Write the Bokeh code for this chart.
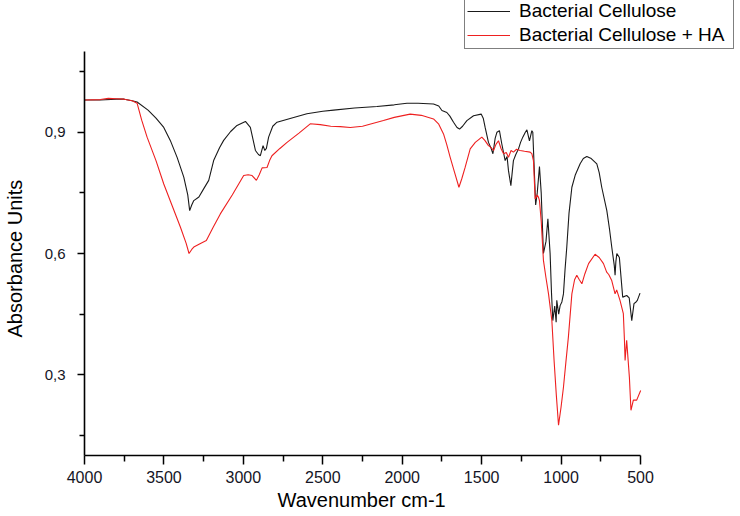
from bokeh.plotting import figure
from bokeh.models import Range1d, FixedTicker, CustomJSTickFormatter, Legend, LegendItem, Title
from bokeh.embed import file_html
from bokeh.resources import INLINE

# ---- data ----
bc_wn = [4000, 3900, 3800, 3750, 3700, 3669, 3600, 3550, 3501, 3460, 3417, 3375, 3350, 3338,
         3325, 3312, 3280, 3250, 3218, 3187, 3150, 3124, 3080, 3040, 2987, 2956, 2924, 2905,
         2893, 2876, 2865, 2855, 2841, 2815, 2788, 2700, 2600, 2500, 2432, 2300, 2159, 2050,
         1970, 1900, 1803, 1770, 1750, 1719, 1700, 1677, 1655, 1639, 1620, 1593, 1551, 1503,
         1490, 1478, 1457, 1440, 1429, 1415, 1404, 1388, 1373, 1352, 1340, 1331, 1316, 1300,
         1285, 1268, 1255, 1241, 1225, 1215, 1199, 1184, 1178, 1170, 1160, 1150, 1136, 1125,
         1111, 1095, 1083, 1069, 1060, 1052, 1040, 1031, 1027, 1015, 1006, 995, 985, 975, 964,
         950, 932, 910, 880, 860, 838, 810, 775, 760, 744, 712, 695, 681, 665, 660, 655, 649,
         633, 612, 587, 571, 555, 541, 528, 520, 503]
bc_abs = [0.980, 0.980, 0.982, 0.982, 0.978, 0.975, 0.955, 0.935, 0.912, 0.880, 0.838, 0.789, 0.745, 0.706,
          0.720, 0.731, 0.740, 0.760, 0.781, 0.830, 0.862, 0.880, 0.902, 0.917, 0.927, 0.912, 0.855, 0.845,
          0.842, 0.867, 0.855, 0.860, 0.888, 0.915, 0.925, 0.935, 0.946, 0.952, 0.955, 0.960, 0.964, 0.968,
          0.972, 0.972, 0.970, 0.965, 0.954, 0.949, 0.940, 0.925, 0.912, 0.908, 0.915, 0.929, 0.941, 0.945,
          0.935, 0.912, 0.875, 0.860, 0.847, 0.885, 0.900, 0.904, 0.871, 0.830, 0.840, 0.805, 0.768, 0.830,
          0.845, 0.859, 0.875, 0.888, 0.900, 0.906, 0.879, 0.904, 0.900, 0.820, 0.720, 0.750, 0.815, 0.750,
          0.600, 0.630, 0.686, 0.600, 0.500, 0.434, 0.470, 0.430, 0.484, 0.450, 0.471, 0.480, 0.500, 0.560, 0.616,
          0.700, 0.764, 0.795, 0.822, 0.835, 0.840, 0.835, 0.822, 0.800, 0.764, 0.706, 0.660, 0.616, 0.570, 0.546, 0.580, 0.600,
          0.590, 0.492, 0.496, 0.490, 0.434, 0.476, 0.480, 0.484, 0.502]

ha_wn = [4000, 3900, 3850, 3800, 3750, 3700, 3669, 3640, 3606, 3550, 3501, 3450, 3396, 3360, 3342,
         3325, 3312, 3270, 3233, 3190, 3145, 3070, 2998, 2970, 2945, 2918, 2900, 2882, 2851, 2835,
         2820, 2770, 2725, 2650, 2579, 2516, 2450, 2390, 2327, 2250, 2118, 2050, 1950, 1880, 1803,
         1770, 1740, 1720, 1698, 1670, 1643, 1625, 1604, 1572, 1540, 1499, 1480, 1457, 1440, 1425,
         1410, 1394, 1378, 1362, 1345, 1331, 1315, 1300, 1280, 1258, 1230, 1195, 1184, 1174, 1163,
         1150, 1142, 1136, 1125, 1111, 1095, 1079, 1058, 1044, 1030, 1016, 1000, 985, 970, 954, 932,
         915, 901, 885, 869, 850, 827, 786, 760, 733, 713, 700, 681, 660, 650, 629, 608, 601, 597,
         587, 570, 560, 545, 524, 499]
ha_abs = [0.980, 0.981, 0.984, 0.983, 0.982, 0.978, 0.972, 0.930, 0.888, 0.830, 0.772, 0.720, 0.665, 0.625, 0.600,
          0.610, 0.616, 0.625, 0.632, 0.665, 0.698, 0.745, 0.793, 0.795, 0.793, 0.781, 0.795, 0.812, 0.813, 0.830,
          0.842, 0.860, 0.875, 0.898, 0.921, 0.919, 0.915, 0.914, 0.912, 0.915, 0.929, 0.937, 0.945, 0.942, 0.933,
          0.920, 0.896, 0.870, 0.838, 0.800, 0.764, 0.785, 0.813, 0.859, 0.875, 0.888, 0.880, 0.867, 0.862, 0.855,
          0.870, 0.879, 0.860, 0.847, 0.850, 0.838, 0.855, 0.851, 0.858, 0.855, 0.853, 0.851, 0.847, 0.830, 0.735,
          0.745, 0.739, 0.731, 0.680, 0.583, 0.540, 0.500, 0.434, 0.335, 0.250, 0.175, 0.220, 0.269, 0.330, 0.393, 0.500,
          0.535, 0.546, 0.535, 0.525, 0.550, 0.575, 0.598, 0.590, 0.575, 0.554, 0.548, 0.533, 0.500, 0.510, 0.484, 0.451, 0.385, 0.335,
          0.385, 0.294, 0.212, 0.237, 0.237, 0.261]

series_names = ["Bacterial Cellulose", "Bacterial Cellulose + HA"]
x_title = "Wavenumber cm-1"
y_title = "Absorbance Units"
x_ticks = [4000, 3500, 3000, 2500, 2000, 1500, 1000, 500]
x_minor = [3750, 3250, 2750, 2250, 1750, 1250, 750]
y_ticks = [0.3, 0.6, 0.9]
y_minor = [0.15, 0.45, 0.75, 1.05]
x_lo, x_hi = 500, 4000
y_lo, y_hi = 0.1, 1.1

FONT = "Liberation Sans"

# layout (pixels): plotted axes box spans x 84..640, y 51..455 of a 740x516 canvas;
# the frame is extended to the canvas top/right so the legend is not clipped.
W, H = 740, 516
ax_left, ax_right, ax_top, ax_bottom = 84, 640, 51, 455
x_per_px = (x_hi - x_lo) / (ax_right - ax_left)
y_per_px = (y_hi - y_lo) / (ax_bottom - ax_top)
x_end = x_lo - (W - ax_right) * x_per_px
y_end = y_hi + ax_top * y_per_px

p = figure(width=W, height=H, output_backend="svg", toolbar_location=None, title=None,
           x_range=Range1d(x_hi, x_end), y_range=Range1d(y_lo, y_end),
           min_border_left=ax_left, min_border_right=0, min_border_top=0,
           min_border_bottom=H - ax_bottom)
p.outline_line_color = None
p.xgrid.visible = False
p.ygrid.visible = False

r1 = p.line(bc_wn, bc_abs, line_color="#1a1a1a", line_width=1.1)
r2 = p.line(ha_wn, ha_abs, line_color="#ee2020", line_width=1.1)

for ax in (p.xaxis[0], p.yaxis[0]):
    ax.axis_line_width = 1.6
    ax.axis_line_color = "black"
    ax.major_tick_line_width = 1.5
    ax.minor_tick_line_width = 1.5
    ax.major_tick_line_color = "black"
    ax.minor_tick_line_color = "black"
    ax.major_tick_in = 0
    ax.minor_tick_in = 0
    ax.major_label_text_font = FONT
    ax.major_label_text_color = "#151525"
    ax.axis_label_text_font = FONT
    ax.axis_label_text_font_style = "normal"
    ax.axis_label_text_font_size = "20px"
    ax.axis_label_text_color = "black"

p.xaxis.bounds = (x_lo, x_hi)
p.xaxis.ticker = FixedTicker(ticks=x_ticks, minor_ticks=x_minor)
p.xaxis.major_label_text_font_size = "16px"
p.xaxis.major_tick_out = 9
p.xaxis.minor_tick_out = 6
p.xaxis.major_label_standoff = 6

p.yaxis.bounds = (y_lo, y_hi)
p.yaxis.ticker = FixedTicker(ticks=y_ticks, minor_ticks=y_minor)
p.yaxis.major_label_text_font_size = "15px"
p.yaxis.formatter = CustomJSTickFormatter(code="return tick.toFixed(1).replace('.', ',');")
p.yaxis.major_tick_out = 7
p.yaxis.minor_tick_out = 5
p.yaxis.major_label_standoff = 12
# trailing no-break spaces shift the centred label down to the middle of the drawn axis
p.yaxis.axis_label = y_title + "\u00a0" * 11
p.yaxis.axis_label_standoff = 16

# x-axis title placed along the drawn axis (the frame is wider than the axis)
xt = Title(text=x_title, align="left", offset=193, vertical_align="top", standoff=6,
           text_font=FONT, text_font_size="20px", text_font_style="normal", text_color="black")
p.add_layout(xt, "below")

legend = Legend(items=[LegendItem(label=series_names[0], renderers=[r1]),
                       LegendItem(label=series_names[1], renderers=[r2])],
                location=(464 - ax_left, ax_bottom - 49), orientation="vertical",
                label_text_font=FONT, label_text_font_size="19px", label_text_color="black",
                glyph_width=43, glyph_height=20, label_height=20, label_standoff=9,
                label_width=212, padding=2, spacing=2, margin=0,
                border_line_color="black", border_line_width=1.2,
                background_fill_color="white", background_fill_alpha=1.0)
p.add_layout(legend, "center")

open("out.html", "w").write(file_html(p, INLINE))
